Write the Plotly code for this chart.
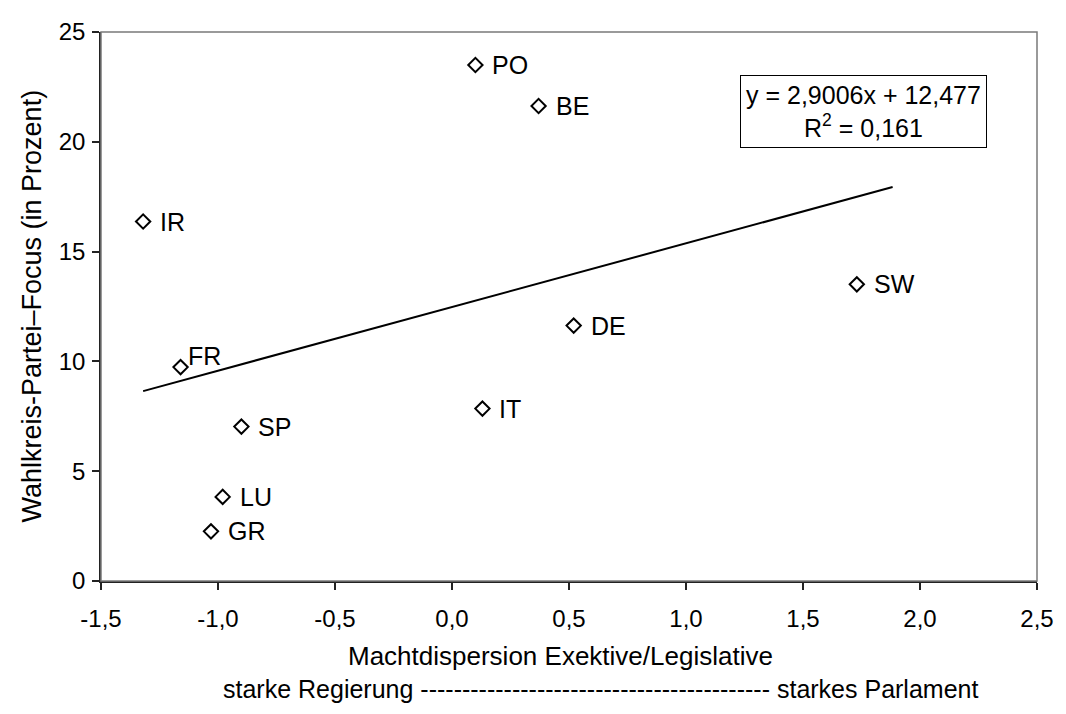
import plotly.graph_objects as go

# Data
countries = ["PO", "BE", "IR", "SW", "DE", "FR", "IT", "SP", "LU", "GR"]
macht_x = [0.10, 0.37, -1.32, 1.73, 0.52, -1.16, 0.13, -0.90, -0.98, -1.03]
focus_y = [23.50, 21.63, 16.37, 13.51, 11.63, 9.74, 7.85, 7.03, 3.83, 2.26]

slope = 2.9006
intercept = 12.477
r_squared = 0.161
trend_x = [min(macht_x), 1.883]

x_tickvals = [-1.5, -1.0, -0.5, 0.0, 0.5, 1.0, 1.5, 2.0, 2.5]
x_ticktext = ["-1,5", "-1,0", "-0,5", "0,0", "0,5", "1,0", "1,5", "2,0", "2,5"]
y_tickvals = [0, 5, 10, 15, 20, 25]

FONT = "Liberation Sans, Arial, sans-serif"
W, H = 1066, 714
OFF = 8  # default page body margin shifts the figure by this much
# plot area in page pixels: x 101..1037, y 18..581
L, T = 101 - OFF, 18 - OFF
R, B = W - (1037 - OFF), H - (581 - OFF)
pw, ph = W - L - R, H - T - B


def px_x(p):
    return (p - OFF - L) / pw


def px_y(p):
    return (H - B - (p - OFF)) / ph


def fmt(v):
    return f"{v}".replace(".", ",")


fig = go.Figure()

fig.add_trace(go.Scatter(
    x=trend_x,
    y=[slope * v + intercept for v in trend_x],
    mode="lines",
    line=dict(color="black", width=2),
    hoverinfo="skip",
    showlegend=False,
))

fig.add_trace(go.Scatter(
    x=macht_x,
    y=focus_y,
    mode="markers",
    marker=dict(symbol="diamond-open", size=11, color="black",
                line=dict(color="black", width=2)),
    showlegend=False,
))

label_annos = []
for c, xv, yv in zip(countries, macht_x, focus_y):
    if c == "FR":
        label_annos.append(dict(text=c, x=xv, y=yv, xref="x", yref="y",
                                xanchor="left", yanchor="bottom", xshift=6, yshift=-4,
                                showarrow=False, borderpad=0,
                                font=dict(family=FONT, size=25, color="black")))
    else:
        label_annos.append(dict(text=c, x=xv, y=yv, xref="x", yref="y",
                                xanchor="left", yanchor="middle", xshift=16,
                                showarrow=False, borderpad=0,
                                font=dict(family=FONT, size=25, color="black")))

axis_common = dict(
    showgrid=False, zeroline=False, showline=True, linecolor="#222222",
    linewidth=1.5, ticks="outside", ticklen=7, tickwidth=1.5,
    tickcolor="#222222", tickfont=dict(family=FONT, size=24, color="black"),
    ticklabeloverflow="allow",
)

fig.update_layout(
    width=W, height=H,
    margin=dict(l=L, r=R, t=T, b=B),
    paper_bgcolor="white", plot_bgcolor="white",
    xaxis=dict(range=[-1.5, 2.5], tickvals=x_tickvals, ticktext=x_ticktext,
               ticklabelstandoff=8, **axis_common),
    yaxis=dict(range=[0, 25], tickvals=y_tickvals, ticklabelstandoff=2, **axis_common),
    shapes=[dict(type="rect", xref="paper", yref="paper", x0=0, x1=1, y0=0, y1=1,
                 line=dict(color="#7a7a7a", width=1.5), layer="above")],
    annotations=label_annos + [
        dict(text=f"y = {fmt(slope)}x + {fmt(intercept)}<br>R<sup>2</sup> = {fmt(r_squared)}",
             xref="paper", yref="paper", x=px_x(863.5), y=px_y(62),
             xanchor="center", yanchor="top", showarrow=False, align="center",
             font=dict(family=FONT, size=25, color="black"),
             bordercolor="black", borderwidth=1, borderpad=5, bgcolor="white"),
        dict(text="Machtdispersion Exektive/Legislative",
             xref="paper", yref="paper", x=px_x(560), y=px_y(658),
             xanchor="center", yanchor="middle", showarrow=False,
             font=dict(family=FONT, size=26, color="black")),
        dict(text="starke Regierung " + "-" * 42 + " starkes Parlament",
             xref="paper", yref="paper", x=px_x(600), y=px_y(692),
             xanchor="center", yanchor="middle", showarrow=False,
             font=dict(family=FONT, size=25, color="black")),
        dict(text="Wahlkreis-Partei–Focus (in Prozent)",
             xref="paper", yref="paper", x=px_x(31), y=0.5, textangle=-90,
             xanchor="center", yanchor="middle", showarrow=False,
             font=dict(family=FONT, size=27, color="black")),
    ],
)

fig.write_html("out.html")
